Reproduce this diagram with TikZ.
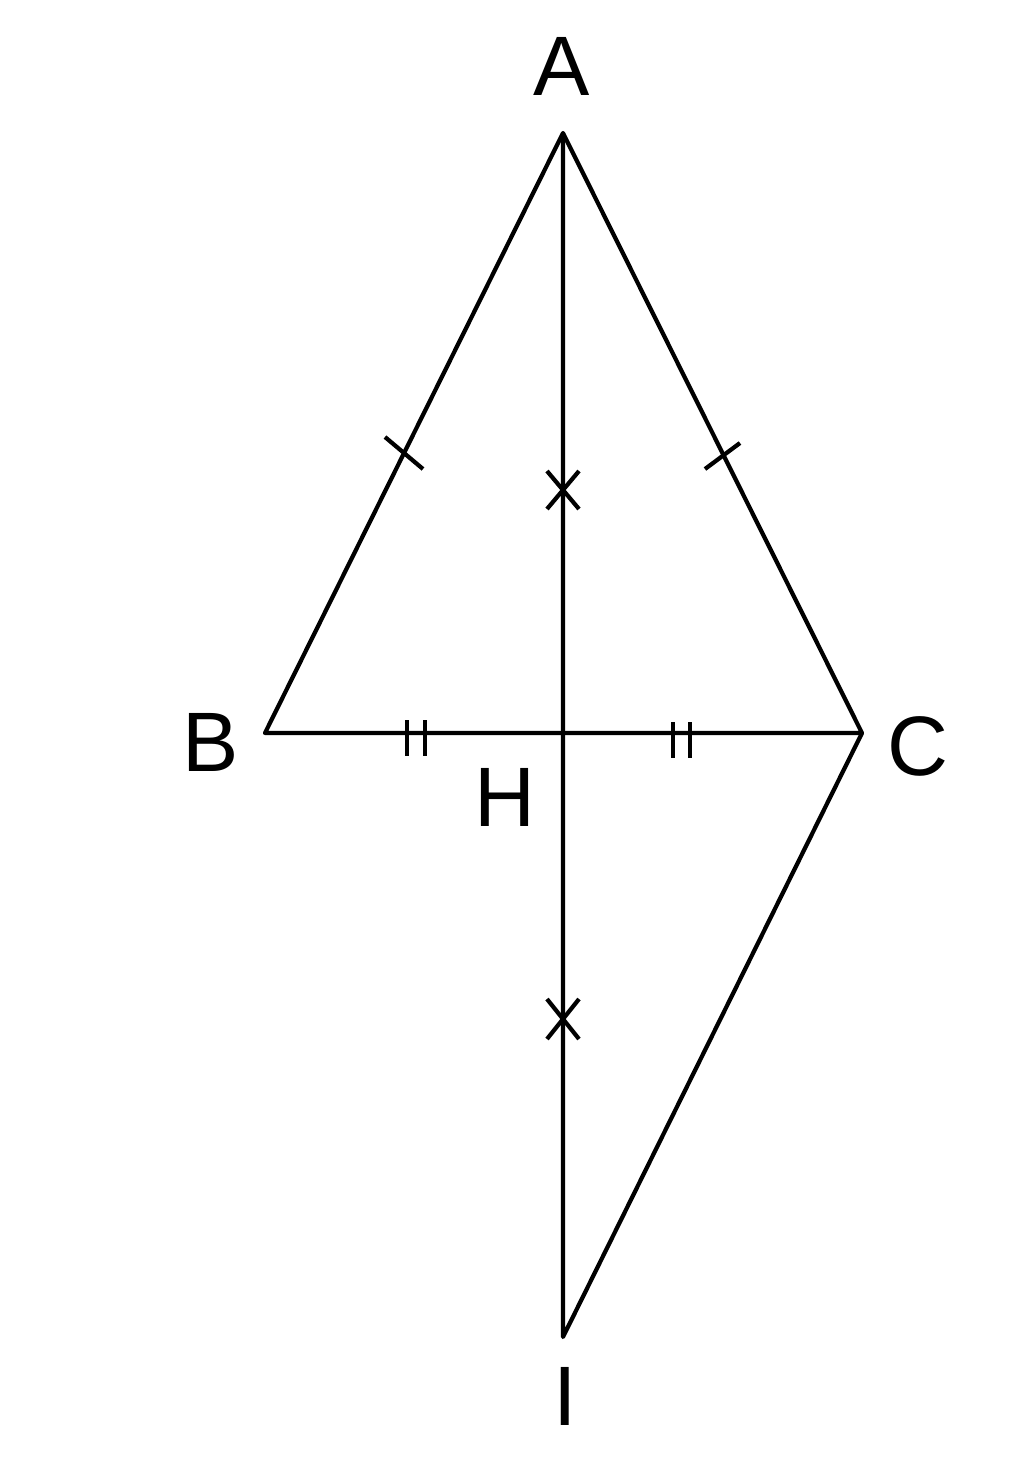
\documentclass[tikz,border=0pt]{standalone}
\usepackage{fontspec}
\setmainfont{Liberation Sans}
\begin{document}
\begin{tikzpicture}[x=0.01cm,y=-0.01cm,
  seg/.style={line width=1.2pt,line join=round},
  tickmk/.style={line width=1.2pt},
  lbl/.style={font=\fontsize{24}{28}\selectfont,inner sep=0pt}]
\useasboundingbox (0,0) rectangle (1024,1462);
\coordinate (A) at (563,133);
\coordinate (B) at (265,733);
\coordinate (C) at (862,733);
\coordinate (H) at (563,733);
\coordinate (I) at (563,1337);
\draw[seg] (B) -- (A) -- (C) -- cycle;
\draw[seg] (A) -- (I) -- (C);
\node[lbl] (lA) at (562,66) {A};
\node[lbl] (lB) at (211,742) {B};
\node[lbl] (lC) at (918,746) {C};
\node[lbl] (lH) at (505,797) {H};
\node[lbl] (lI) at (565,1396) {I};
% single ticks on AB and AC
\draw[tickmk] (385,437) -- (423,469);
\draw[tickmk] (705,469) -- (740,443);
% double ticks on BH and HC
\draw[tickmk] (407,720) -- (407,756);
\draw[tickmk] (425,720) -- (425,756);
\draw[tickmk] (673,722) -- (673,758);
\draw[tickmk] (690,722) -- (690,758);
% crosses on AH and HI
\draw[tickmk] (547,471) -- (579,509) (579,471) -- (547,509);
\draw[tickmk] (547,999) -- (579,1039) (579,999) -- (547,1039);
\end{tikzpicture}
\end{document}
